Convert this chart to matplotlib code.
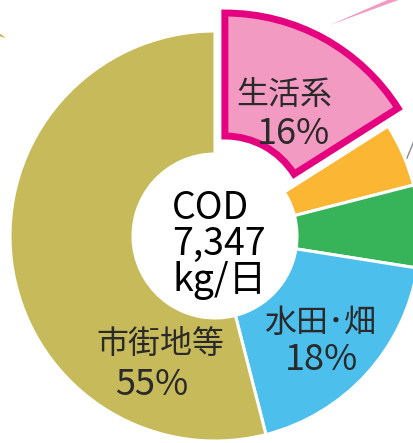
import matplotlib.pyplot as plt

plt.rcParams['font.family'] = ['Noto Sans CJK JP', 'DejaVu Sans']

# COD load shares (%), clockwise from 12 o'clock
labels = ['生活系', '', '', '水田･畑', '市街地等']
shares = [16, 5, 6.5, 18.5, 54]
pct_text = ['16%', '', '', '18%', '55%']
colors = ['#F29AC1', '#FBB733', '#37B45A', '#4CBFEC', '#C7BA5A']
total_text = 'COD\n7,347\nkg/日'

# pixel -> data helper (pie centre at px 215,236, radius 205 px)
CX, CY, R = 215, 236, 205
W, H = 413, 443


def px(x, y):
    return (x - CX) / R, (CY - y) / R


fig = plt.figure(figsize=(W / 100, H / 100), dpi=100)
ax = fig.add_axes([0, 0, 1, 1])

wedges, _ = ax.pie(shares, colors=colors, startangle=90, counterclock=False,
                   explode=[0.1, 0, 0, 0, 0], radius=1,
                   wedgeprops=dict(width=0.6, edgecolor='white', linewidth=2.2))
wedges[0].set_edgecolor('#E4007F')
wedges[0].set_linewidth(5)
wedges[0].set_zorder(3)

ax.set_xlim(px(0, 0)[0], px(W, 0)[0])
ax.set_ylim(px(0, H)[1], px(0, 0)[1])
ax.axis('off')

# leader lines to labels outside the crop
ax.fill(*zip(px(330, 25), px(392, -2), px(404, -2)), color='#F29AC1', lw=0)
ax.plot(*zip(px(407, 158), px(416, 136)), color='#8C8C8C', lw=1)
ax.fill(*zip(px(6, 38), px(-2, 32), px(-2, 36)), color='#C7BA5A', lw=0)

txt = '#2A2A2A'
ax.text(*px(284, 95), labels[0], ha='center', va='center', fontsize=23, color=txt)
ax.text(*px(294, 134), pct_text[0], ha='center', va='center', fontsize=26, color=txt)
ax.text(*px(320, 323), labels[3], ha='center', va='center', fontsize=23, color=txt)
ax.text(*px(322, 360), pct_text[3], ha='center', va='center', fontsize=26, color=txt)
ax.text(*px(160, 344), labels[4], ha='center', va='center', fontsize=23, color=txt)
ax.text(*px(152, 385), pct_text[4], ha='center', va='center', fontsize=26, color=txt)

ax.text(*px(172, 244), total_text, ha='left', va='center', fontsize=27,
        color='black', linespacing=0.9)

fig.savefig('out.png', dpi=100)
